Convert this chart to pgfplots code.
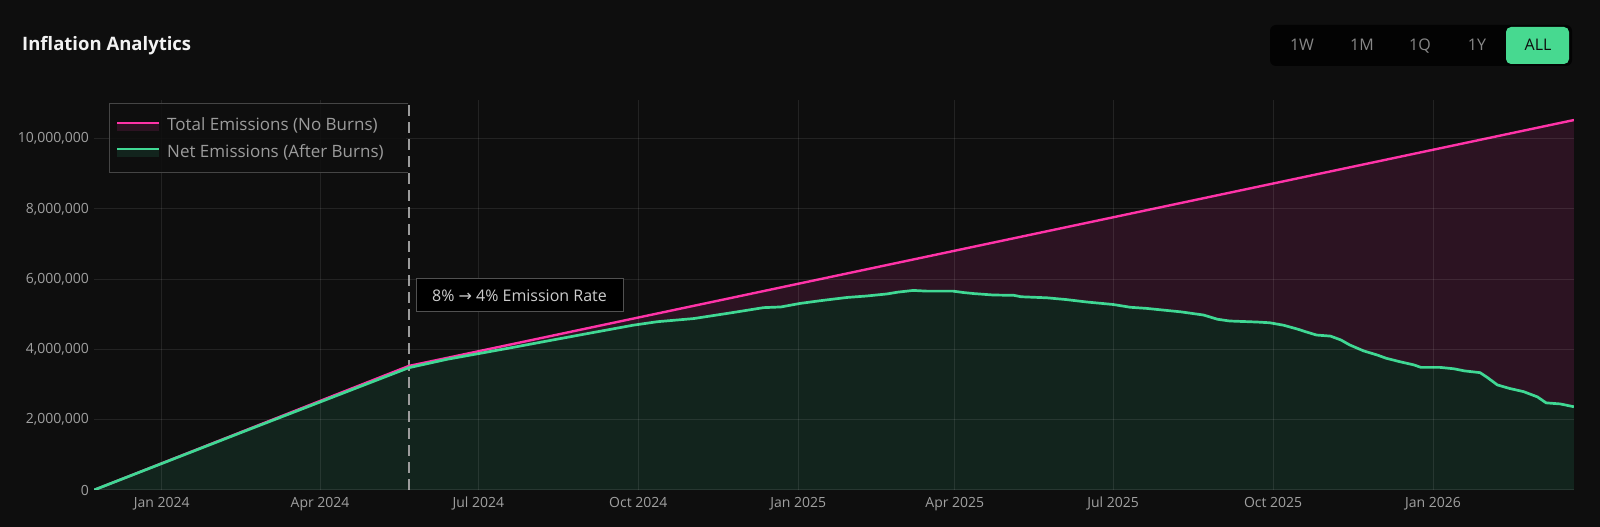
\documentclass[border=0pt]{standalone}
\usepackage{fontspec}
\setmainfont{Open Sans}
\newfontfamily\dejavu{DejaVu Sans}
\usepackage{pgfplots}
\usepackage{pgfplotstable}
\pgfplotsset{compat=1.18}

\definecolor{bg}{HTML}{0E0E0E}
\definecolor{purpfill}{HTML}{2C1322}
\definecolor{grnfill}{HTML}{12241D}
\definecolor{pinkline}{HTML}{FF33A8}
\definecolor{grnline}{HTML}{40D894}
\definecolor{tickgray}{HTML}{A0A0A0}
\definecolor{legendgray}{HTML}{9C9C9C}
\definecolor{btngreen}{HTML}{47D990}

% days counted from 1 Jan 2024
\pgfplotstableread{
day value
-39 0
142 3530000
812 10530000
}\total

\pgfplotstableread{
day value
-39 0
50 1720000
142 3480000
164 3720000
183 3890000
202 4060000
227 4290000
250 4500000
271 4690000
285 4790000
306 4880000
327 5040000
346 5190000
356 5210000
367 5310000
379 5390000
394 5480000
405 5520000
417 5580000
423 5630000
432 5680000
440 5660000
455 5660000
461 5620000
467 5590000
478 5550000
490 5540000
494 5500000
509 5470000
520 5420000
532 5350000
547 5280000
557 5200000
566 5170000
582 5090000
586 5070000
599 4980000
607 4860000
614 4810000
630 4780000
637 4760000
645 4690000
653 4580000
658 4500000
664 4410000
672 4380000
678 4270000
683 4130000
691 3960000
699 3840000
704 3750000
712 3650000
720 3560000
724 3490000
735 3490000
743 3450000
749 3390000
758 3340000
762 3210000
768 2990000
775 2890000
783 2800000
791 2650000
796 2480000
804 2450000
812 2370000
}\net

\begin{document}
\begin{tikzpicture}[x=1pt,y=1pt]
\fill[bg] (0,0) rectangle (1600,527);

% legend box background (drawn first so the dashed line stays visible)
\fill[bg] (109,423) rectangle (407,354);

\begin{axis}[
  at={(94pt,37pt)}, anchor=south west,
  width=1480pt, height=390pt, scale only axis,
  xmin=-39, xmax=812, ymin=0, ymax=11100000,
  axis line style={draw=none},
  major tick length=0pt,
  axis on top,
  grid=major,
  major grid style={white, opacity=0.09, line width=1pt},
  xtick={0,91,182,274,366,456,547,639,731},
  xticklabels={Jan 2024,Apr 2024,Jul 2024,Oct 2024,Jan 2025,Apr 2025,Jul 2025,Oct 2025,Jan 2026},
  ytick={0,2000000,4000000,6000000,8000000,10000000},
  yticklabels={0,{2,000,000},{4,000,000},{6,000,000},{8,000,000},{10,000,000}},
  scaled y ticks=false,
  tick label style={font=\fontsize{14}{16}\selectfont, text=tickgray},
  xticklabel style={inner ysep=0pt, yshift=-7pt},
  yticklabel style={inner xsep=0pt, anchor=east, xshift=-5pt},
]
\addplot[fill=purpfill, draw=none] table[x=day, y=value] {\total} \closedcycle;
\addplot[fill=grnfill, draw=none] table[x=day, y=value] {\net} \closedcycle;
\addplot[color=gray!78, line width=1.6pt, dash pattern=on 11pt off 6pt] coordinates {(142,0) (142,11100000)};
\addplot[color=pinkline, line width=2.4pt] table[x=day, y=value] {\total};
\addplot[color=grnline, line width=2.7pt] table[x=day, y=value] {\net};
\end{axis}

% title
\node[anchor=west, text=white!95!black, font=\fontsize{18.5}{20}\selectfont\bfseries, inner sep=0pt] at (22,481) {Inflation Analytics};

% range buttons
\fill[black!80!bg, rounded corners=6pt] (1270,502) rectangle (1572,461);
\fill[btngreen, rounded corners=5pt] (1506,500) rectangle (1569,463);
\begin{scope}[every node/.style={font=\fontsize{16}{18}\selectfont, inner sep=0pt, anchor=base}]
\node[text=tickgray!85!black] at (1302,476) {1W};
\node[text=tickgray!85!black] at (1362,476) {1M};
\node[text=tickgray!85!black] at (1420,476) {1Q};
\node[text=tickgray!85!black] at (1477,476) {1Y};
\node[text=bg] at (1538,476) {ALL};
\end{scope}

% legend
\fill[bg, opacity=0.85] (109,423) rectangle (406,354);
\draw[white!23!bg, line width=1pt] (109,354) -- (109,423) -- (407.5,423);
\draw[white!23!bg, line width=1pt] (109,354) -- (407.5,354);
\fill[purpfill] (117,404.3) rectangle (159,396.3);
\draw[pinkline, line width=2pt] (117,404.3) -- (159,404.3);
\fill[grnfill] (117,377.7) rectangle (159,369.7);
\draw[grnline, line width=2pt] (117,377.7) -- (159,377.7);
\begin{scope}[every node/.style={font=\fontsize{17}{19}\selectfont, text=legendgray, anchor=west, inner sep=0pt}]
\node at (167,401.5) {Total Emissions (No Burns)};
\node at (167,374.5) {Net Emissions (After Burns)};
\end{scope}

% annotation
\filldraw[fill=black, draw=white!28!bg, line width=1pt] (416,248) rectangle (623,215);
\node[font=\fontsize{16}{18}\selectfont, text=white!80!black, inner sep=0pt] at (519.5,231.5) {8\% {\dejavu →} 4\% Emission Rate};
\end{tikzpicture}
\end{document}
